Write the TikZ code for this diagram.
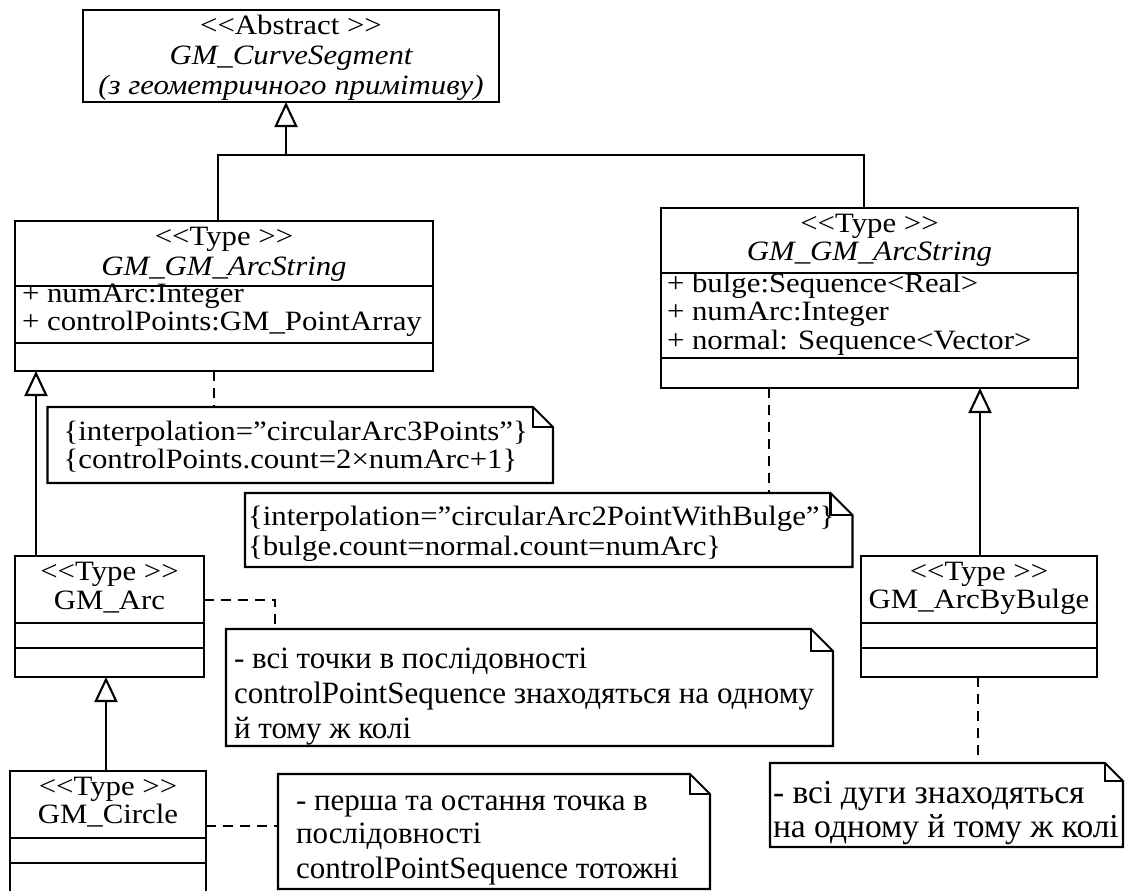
\documentclass[tikz,border=0pt]{standalone}
\usepackage{fontspec}
\setmainfont{Liberation Serif}[FakeStretch=1.1]
\newfontfamily\notefont{Liberation Serif}
\usetikzlibrary{arrows.meta,calc}
% horizontal compartment line inside a class box, #2 pt below its top edge
\newcommand\compline[2]{\draw ([yshift=-#2pt]#1.north west) -- ([yshift=-#2pt]#1.north east);}
% note outline with a folded top-right corner of size #2
\newcommand\dogear[2]{%
  \draw (#1.north west) -- ($(#1.north east)+(-#2,0)$) -- ($(#1.north east)+(0,#2)$)
        -- (#1.south east) -- (#1.south west) -- cycle;
  \draw ($(#1.north east)+(-#2,0)$) |- ($(#1.north east)+(0,#2)$);}
\begin{document}
\begin{tikzpicture}[x=1pt,y=-1pt,line width=2.1pt,
  cls/.style={draw,rectangle,inner sep=0pt,outer sep=0pt,anchor=north west},
  notebox/.style={rectangle,inner sep=0pt,outer sep=0pt,anchor=north west},
  ctext/.style={anchor=base,inner sep=0pt,font=\fontsize{28}{28}\selectfont},
  ltext/.style={anchor=base west,inner sep=0pt,font=\fontsize{28}{28}\selectfont},
  ntext/.style={anchor=base west,inner sep=0pt,font=\notefont\fontsize{31}{31}\selectfont},
  btext/.style={anchor=base west,inner sep=0pt,font=\notefont\fontsize{33.5}{33.5}\selectfont},
  gen/.style={-{Triangle[open,length=25pt,width=23pt]}},
  dep/.style={dash pattern=on 10pt off 7pt}]
\useasboundingbox (0,0) rectangle (1127,891);

% ---- classes ----
\node[cls,minimum width=416pt,minimum height=92pt] (abs) at (83,10) {};
\node[ctext] (abs1) at (291,35) {<{}<Abstract >{}>};
\node[ctext] (abs2) at (291,64) {\itshape GM\_CurveSegment};
\node[ctext] (abs3) at (291,95) {\itshape (з геометричного примітиву)};

\node[cls,minimum width=418pt,minimum height=150pt] (lAS) at (15,221) {};
\compline{lAS}{65}\compline{lAS}{122}
\node[ctext] (lAS1) at (224,245) {<{}<Type >{}>};
\node[ctext] (lAS2) at (224,275) {\itshape GM\_GM\_ArcString};
\node[ltext] (lAS3) at (21,302) {+ numArc:Integer};
\node[ltext] (lAS4) at (21,330) {+ controlPoints:GM\_PointArray};

\node[cls,minimum width=417pt,minimum height=180pt] (rAS) at (661,208) {};
\compline{rAS}{65}\compline{rAS}{150}
\node[ctext] (rAS1) at (869.5,232) {<{}<Type >{}>};
\node[ctext] (rAS2) at (869.5,260) {\itshape GM\_GM\_ArcString};
\node[ltext] (rAS3) at (666,292) {+ bulge:Sequence<Real>};
\node[ltext] (rAS4) at (666,320) {+ numArc:Integer};
\node[ltext] (rAS5) at (666,349) {+ normal: Sequence<Vector>};

\node[cls,minimum width=189pt,minimum height=121pt] (arc) at (15,556) {};
\compline{arc}{67}\compline{arc}{92}
\node[ctext] (arc1) at (109.5,580) {<{}<Type >{}>};
\node[ctext] (arc2) at (109.5,609) {GM\_Arc};

\node[cls,minimum width=196pt,minimum height=134pt] (circ) at (10,771) {};
\compline{circ}{67}\compline{circ}{92}
\node[ctext] (circ1) at (108,795) {<{}<Type >{}>};
\node[ctext] (circ2) at (108,823) {GM\_Circle};

\node[cls,minimum width=236pt,minimum height=121pt] (bulge) at (861,556) {};
\compline{bulge}{67}\compline{bulge}{92}
\node[ctext] (bulge1) at (979,580) {<{}<Type >{}>};
\node[ctext] (bulge2) at (979,608) {GM\_ArcByBulge};

% ---- notes ----
\node[notebox,minimum width=505.5pt,minimum height=76pt] (n1) at (47.5,407) {};
\dogear{n1}{20}
\node[ltext] (n1a) at (62.5,440) {\{interpolation=”circularArc3Points”\}};
\node[ltext] (n1b) at (62.5,468) {\{controlPoints.count=2×numArc+1\}};

\node[notebox,minimum width=607.5pt,minimum height=74pt] (n2) at (245,493) {};
\dogear{n2}{22}
\node[ltext] (n2a) at (247,525) {\{interpolation=”circularArc2PointWithBulge”\}};
\node[ltext] (n2b) at (247,555) {\{bulge.count=normal.count=numArc\}};

\node[notebox,minimum width=607pt,minimum height=117pt] (n3) at (226,629) {};
\dogear{n3}{22}
\node[ntext] (n3a) at (233,668) {- всі точки в послідовності};
\node[ntext] (n3b) at (233,703) {controlPointSequence знаходяться на одному};
\node[ntext] (n3c) at (233,738) {й тому ж колі};

\node[notebox,minimum width=432pt,minimum height=115pt] (n4) at (278,774) {};
\dogear{n4}{20}
\node[ntext] (n4a) at (295,810) {- перша та остання точка в};
\node[ntext] (n4b) at (295,843) {послідовності};
\node[ntext] (n4c) at (295,878) {controlPointSequence тотожні};

\node[notebox,minimum width=353pt,minimum height=84pt] (n5) at (770,763) {};
\dogear{n5}{18}
\node[btext] (n5a) at (772,803) {- всі дуги знаходяться};
\node[btext] (n5b) at (772,837) {на одному й тому ж колі};

% ---- generalizations ----
\coordinate (j) at (286,155);
\draw[gen] (j) -- ([xshift=-5pt]abs.south);
\draw ([xshift=-6pt]lAS.north) |- (j) -| ([xshift=-5.5pt]rAS.north);
\coordinate (g1) at ([xshift=21pt]arc.north west);
\draw[gen] (g1) -- (g1 |- lAS.south);
\coordinate (g2) at ([xshift=-2pt]circ.north);
\draw[gen] (g2) -- (g2 |- arc.south);
\coordinate (g3) at ([xshift=119pt]bulge.north west);
\draw[gen] (g3) -- (g3 |- rAS.south);

% ---- note anchors ----
\coordinate (d1) at ([xshift=199pt]lAS.south west);
\draw[dep] (d1) -- (d1 |- n1.north);
\coordinate (d2) at ([xshift=108pt]rAS.south west);
\draw[dep] (d2) -- (d2 |- n2.north);
\coordinate (d3) at ([yshift=16.5pt]arc.east);
\draw[dep] (d3) -| ([xshift=49pt]n3.north west);
\coordinate (d4) at ([yshift=12pt]circ.east);
\draw[dep] (d4) -- (d4 -| n4.west);
\coordinate (d5) at ([xshift=117pt]bulge.south west);
\draw[dep] (d5) -- (d5 |- n5.north);
\end{tikzpicture}
\end{document}
